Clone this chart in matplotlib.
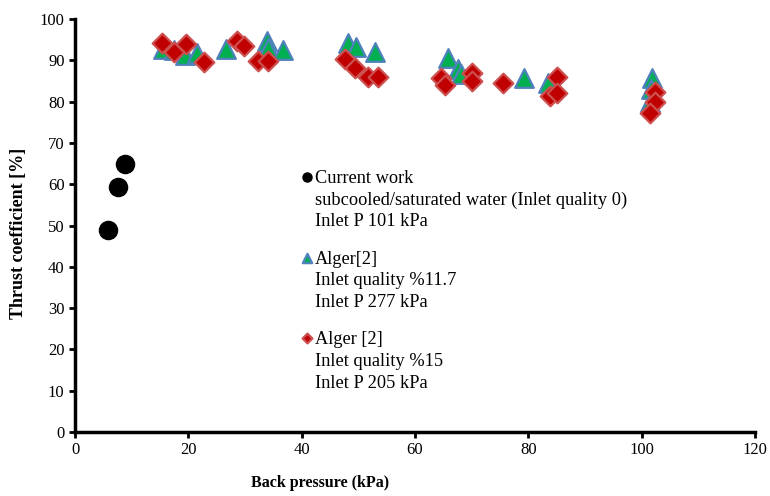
import numpy as np
import matplotlib
matplotlib.use("Agg")
import matplotlib.pyplot as plt

# current work (black circles)
cur_p = [5.8, 7.6, 8.8]
cur_ct = [49.0, 59.3, 64.8]

# Alger [2], inlet quality 11.7 % (triangles)
a117_p = [15.5, 17.5, 19.4, 21.5, 26.6, 33.9, 34.1, 36.7, 48.2, 49.6, 52.9,
          65.8, 67.6, 68.2, 79.2, 83.5, 101.8, 101.6, 101.5]
a117_ct = [92.8, 92.5, 91.2, 91.8, 92.7, 94.6, 93.0, 92.4, 94.2, 93.2, 92.0,
           90.6, 88.0, 86.6, 85.6, 84.4, 85.6, 83.0, 80.0]

# Alger [2], inlet quality 15 % (diamonds)
a15_p = [15.4, 17.5, 19.6, 22.8, 28.6, 29.8, 32.3, 34.0, 47.6, 49.4, 51.7, 53.5,
         64.6, 65.3, 70.0, 70.0, 75.5, 83.8, 85.0, 85.0, 102.3, 102.3, 101.5]
a15_ct = [94.2, 92.0, 94.0, 89.6, 94.6, 93.5, 89.8, 89.8, 90.2, 88.2, 86.0, 86.0,
          85.7, 84.0, 87.0, 84.9, 84.4, 81.4, 86.0, 82.1, 82.3, 80.0, 77.3]

labels = [
    "Current work\nsubcooled/saturated water (Inlet quality 0)\nInlet P 101 kPa",
    "Alger[2]\nInlet quality %11.7\nInlet P 277 kPa",
    "Alger [2]\nInlet quality %15\nInlet P 205 kPa",
]

plt.rcParams['font.family'] = ['Liberation Serif', 'DejaVu Serif']

fig = plt.figure(figsize=(7.7, 4.96), dpi=100)
ax = fig.add_axes([75 / 770, 64 / 496, 680 / 770, 413 / 496])

h1 = ax.scatter(cur_p, cur_ct, s=170, marker='o', color='black', zorder=3)
h2 = ax.scatter(a117_p, a117_ct, s=180, marker='^', facecolor='#00B050',
                edgecolor='#4F81BD', linewidth=1.6, zorder=3)
h3 = ax.scatter(a15_p, a15_ct, s=100, marker='D', facecolor='#C00000',
                edgecolor='#CD4F4F', linewidth=1.6, zorder=4)

ax.set_xlim(0, 120)
ax.set_ylim(0, 100)
ax.set_xticks(np.arange(0, 121, 20))
ax.set_yticks(np.arange(0, 101, 10))
ax.tick_params(labelsize=12, width=2, length=4, direction='out')
for side in ['top', 'right']:
    ax.spines[side].set_visible(False)
for side in ['left', 'bottom']:
    ax.spines[side].set_linewidth(2.5)

# axis titles sit where the original (Excel) chart put them
ax.set_xlabel('Back pressure (kPa)', fontsize=11.5, fontweight='bold')
ax.xaxis.set_label_coords(0.36, -0.105)
ax.set_ylabel('Thrust coefficient [%]', fontsize=13, fontweight='bold')
ax.yaxis.set_label_coords(-0.07, 0.48)

leg = ax.legend([h1, h2, h3], labels, loc='upper left', bbox_to_anchor=(0.3055, 0.675),
                frameon=False, fontsize=13.2, handletextpad=0.0, handlelength=0.85,
                labelspacing=1.1, scatteryoffsets=[2.3], markerscale=0.5)
for t in leg.get_texts():
    t.set_linespacing(1.36)

fig.savefig('out.png', dpi=100)
